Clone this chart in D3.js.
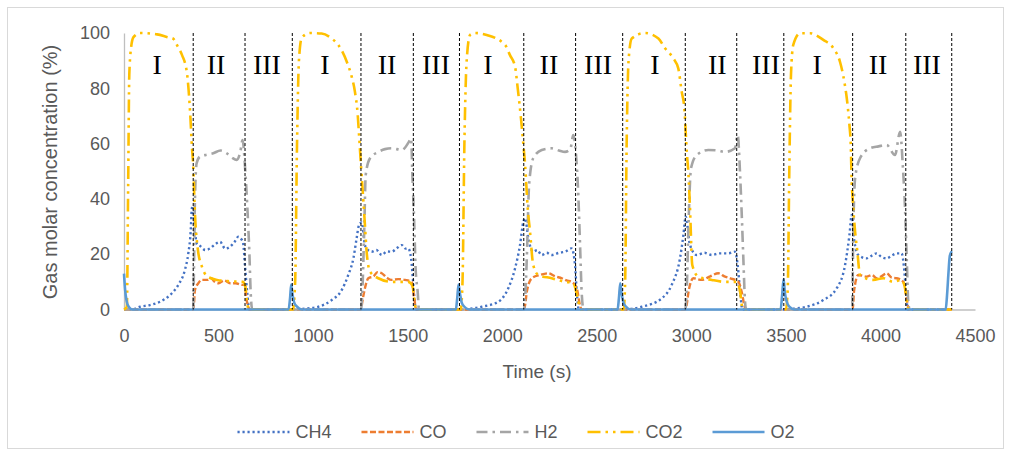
<!DOCTYPE html>
<html>
<head>
<meta charset="utf-8">
<script src="https://cdn.jsdelivr.net/npm/d3@7"></script>
<style>
  body { margin: 0; background: #fff; }
  text { font-family: "Liberation Sans", Arial, sans-serif; fill: #595959; }
</style>
</head>
<body>
<div id="chart"></div>
<script>
// gas concentrations, [time (s), %]
const ch4 = [
  [0,0],[40,0],[85,1],[137,1.6],[190,2.8],[243,5.2],[287,8.9],[322,14.3],[340,20.3],[353,28.8],[358,36],[363,37.5],
  [375,28.8],[384,24],[402,23],[430,21.5],[455,22.1],[480,23.5],[508,24.5],[535,22],[561,22.7],[585,24.5],[604,26.3],
  [620,25.5],[630,24],[640,15.5],[652,5.9],[662,0],
  [890,0],[957,0.3],[1028,1],[1098,3.4],[1151,7],[1186,12.5],[1213,18.5],[1230,25.7],[1243,30.6],[1257,31.5],
  [1274,23.3],[1290,21.5],[1310,20.9],[1335,21.5],[1363,19.7],[1390,21],[1416,20.9],[1440,22],[1469,23.3],[1490,22],
  [1503,22.1],[1518,18.5],[1530,8.9],[1539,1.6],[1546,0],
  [1777,0],[1830,0.3],[1892,1],[1979,2.8],[2032,7.7],[2068,14.9],[2094,23.3],[2112,31.8],[2121,33],[2138,25.7],
  [2164,20.9],[2185,21.5],[2209,19.7],[2235,20.5],[2262,19.7],[2300,20.5],[2332,20.9],[2367,22.1],[2385,16.1],
  [2394,6.4],[2405,0],
  [2637,0],[2690,0.3],[2738,1],[2843,4],[2896,8.9],[2940,18.5],[2958,26.9],[2970,33.6],[2993,23.3],[3029,19.7],
  [3070,20.5],[3108,19.7],[3150,20.3],[3196,20.3],[3231,20.9],[3245,16.1],[3258,6.4],[3270,0],
  [3490,0],[3545,0.3],[3610,1],[3698,3.4],[3769,7.7],[3813,16.1],[3836,26.9],[3848,34.2],[3860,25.7],[3883,19.7],
  [3927,18.5],[3955,19.5],[3980,20.3],[4005,19],[4033,18.5],[4060,19.5],[4086,20.3],[4112,20.3],[4125,14.9],
  [4135,6.4],[4145,0],[4377,0]
];

const co = [
  [0,0],[366,0],[370,2],[375,7],[393,9.5],[410,10.7],[440,10.7],[460,11.3],[480,10],[500,9.5],[530,10.5],[561,9.5],
  [590,9.5],[627,8.9],[640,8.9],[646,4.6],[657,1],[662,0],
  [1253,0],[1260,2.8],[1274,7.7],[1292,11.3],[1320,12],[1340,13.5],[1363,13.1],[1390,11.5],[1416,10.7],[1450,11],
  [1486,10.7],[1521,10],[1535,4],[1545,0],
  [2114,0],[2122,2],[2130,6.4],[2156,11.3],[2200,12.5],[2244,13.1],[2280,12],[2315,11.3],[2340,10.5],[2367,10],
  [2394,7.7],[2411,1.6],[2420,0],
  [2968,0],[2976,2],[2985,6.4],[3011,11.3],[3055,10.7],[3100,12],[3143,13.1],[3175,12],[3205,11.3],[3249,10],
  [3266,6.4],[3280,1.6],[3288,0],
  [3853,0],[3856,2],[3860,6.4],[3883,12.5],[3927,11.9],[3955,12.5],[3980,11.3],[4005,12],[4033,13.1],[4060,11.5],
  [4086,11.3],[4121,10],[4139,4],[4150,0],[4377,0]
];

const h2 = [
  [0,0],[366,0],[370,15.5],[375,39.6],[384,52.9],[402,55.3],[440,56],[472,56.5],[510,57.5],[543,56.5],[570,55],
  [596,54.1],[615,57],[627,61.3],[640,51.6],[652,37.2],[663,20.3],[670,5.9],[678,0],
  [1253,0],[1260,6],[1271,30.6],[1278,48.6],[1301,54.7],[1345,57],[1380,58],[1416,58.3],[1469,57.7],[1507,60.7],
  [1518,61.9],[1525,48.6],[1535,30.6],[1542,14.9],[1553,6.4],[1560,0],
  [2114,0],[2122,5],[2130,18.5],[2142,45],[2164,54.7],[2209,57.7],[2262,58.3],[2300,57.5],[2332,57],[2360,58],
  [2376,63.1],[2389,57],[2403,40.2],[2411,24.5],[2420,6.4],[2430,0],
  [2968,0],[2976,8],[2985,30.6],[2998,51],[3029,55.9],[3090,57.7],[3140,57.5],[3178,57],[3231,58.3],[3245,63.1],
  [3258,48.6],[3266,35.4],[3275,18.5],[3284,2.8],[3290,0],
  [3850,0],[3857,30.6],[3866,47.4],[3892,54.7],[3945,58.3],[3990,59],[4033,59.5],[4077,55.9],[4104,64.3],[4118,52.3],
  [4130,36.6],[4139,18.5],[4147,2.8],[4155,0],[4377,0]
];

const co2 = [
  [0,0],[15,1],[22,45],[28,85],[38,95],[50,98.5],[85,100],[175,99.5],[230,98.5],[259,98],[285,95],[307,92],
  [333,85.5],[349,72],[360,58],[366,52],[375,35],[391,21.5],[412,15.5],[440,12],[492,10.7],[560,10.2],[629,10],
  [642,8],[652,2],[660,0],
  [893,0],[905,10],[915,60],[925,90],[940,98.3],[984,100],[1045,99.8],[1098,98],[1133,95.7],[1178,89.6],[1204,84.2],
  [1221,78.8],[1236,70.3],[1243,63],[1253,52.3],[1266,39],[1274,30.6],[1283,20.9],[1301,13.7],[1345,11.3],
  [1416,10],[1503,10],[1525,8.6],[1539,1.6],[1546,0],
  [1780,0],[1790,10],[1800,60],[1812,90],[1830,99.3],[1856,100],[1918,99.3],[2015,95.7],[2041,92],[2068,87.8],
  [2082,80],[2099,69.2],[2112,59.5],[2121,52.3],[2135,36.6],[2147,28.1],[2164,16.1],[2191,12.5],[2262,11.3],
  [2332,10],[2376,9.5],[2399,4],[2411,0.5],[2418,0],
  [2642,0],[2650,10],[2658,60],[2668,90],[2685,98],[2755,100],[2826,98],[2861,94.5],[2905,90.8],[2931,87.2],
  [2949,78.8],[2963,72.8],[2976,57],[2985,48.6],[2993,36.6],[3005,16.1],[3037,11.9],[3108,10.7],[3178,10],
  [3240,10],[3258,6.4],[3270,0.5],[3276,0],
  [3500,0],[3510,8],[3518,50],[3527,85],[3539,95.7],[3575,99.9],[3628,99.9],[3698,97.5],[3751,94.5],[3786,89.6],
  [3809,82.4],[3822,76.4],[3836,66.7],[3843,59.5],[3848,46.2],[3853,40.2],[3866,28.1],[3878,20.9],[3892,12.5],
  [3962,10.7],[4015,11.3],[4068,10],[4112,10.7],[4130,7.7],[4142,1.6],[4150,0],[4377,0]
];

const o2 = [
  [0,13],[6,7],[14,3],[25,1],[45,0],
  [870,0],[878,4],[884,9],[890,6],[900,2.5],[915,1],[940,0],
  [1755,0],[1762,4],[1769,9],[1776,6],[1786,2.5],[1800,1],[1825,0],
  [2610,0],[2617,4],[2624,9.5],[2631,6],[2641,2.5],[2655,1],[2680,0],
  [3472,0],[3480,5],[3488,11],[3494,6.5],[3504,3],[3518,1],[3545,0],
  [4345,0],[4352,5],[4359,12.5],[4366,19],[4372,20.5],[4380,21]
];

// phase boundaries (dashed lines) and phase labels
const boundaries = [366, 640, 890, 1253, 1530, 1774, 2114, 2388, 2637, 2968, 3240, 3489, 3853, 4134, 4377];
const phaseNames = ["I", "II", "III", "I", "II", "III", "I", "II", "III", "I", "II", "III", "I", "II", "III"];
const phaseTimes = [175, 487, 756, 1063, 1391, 1650, 1925, 2247, 2507, 2808, 3137, 3395, 3665, 3987, 4246];

const xTicks = [0, 500, 1000, 1500, 2000, 2500, 3000, 3500, 4000, 4500];
const yTicks = [0, 20, 40, 60, 80, 100];

const series = [
  { name: "CH4", data: ch4, color: "#4472C4", width: 2.4, dash: "2.2,2.8" },
  { name: "CO",  data: co,  color: "#ED7D31", width: 2.4, dash: "6,2.5" },
  { name: "H2",  data: h2,  color: "#A5A5A5", width: 2.6, dash: "11,5,2.5,5" },
  { name: "CO2", data: co2, color: "#FFC000", width: 2.6, dash: "13,5,2.5,5,2.5,5" },
  { name: "O2",  data: o2,  color: "#5B9BD5", width: 2.6, dash: null }
];

const width = 1011;
const height = 456;

const x = d3.scaleLinear().domain([0, 4500]).range([124, 975]);
const y = d3.scaleLinear().domain([0, 100]).range([309.5, 33]);

const svg = d3.select("#chart")
  .append("svg")
  .attr("width", width)
  .attr("height", height);

// outer frame
svg.append("rect")
  .attr("x", 7.5).attr("y", 7.5)
  .attr("width", 996).attr("height", 441)
  .attr("fill", "#fff")
  .attr("stroke", "#D9D9D9");

// axes
const xAxis = svg.append("g")
  .attr("transform", `translate(0,${y(0)})`)
  .call(d3.axisBottom(x).tickValues(xTicks).tickSize(0).tickPadding(20).tickFormat(d3.format("d")));
xAxis.select(".domain").attr("stroke", "#BFBFBF").attr("stroke-width", 1.3);
xAxis.selectAll("text").style("font-size", "18px").style("fill", "#595959")
  .style("font-family", "'Liberation Sans', Arial, sans-serif");

const yAxis = svg.append("g")
  .attr("transform", `translate(${x(0)},0)`)
  .call(d3.axisLeft(y).tickValues(yTicks).tickSize(0).tickPadding(14));
yAxis.select(".domain").attr("stroke", "#BFBFBF").attr("stroke-width", 1.3);
yAxis.selectAll("text").style("font-size", "18px").style("fill", "#595959")
  .style("font-family", "'Liberation Sans', Arial, sans-serif");

// axis titles
svg.append("text")
  .attr("x", 537).attr("y", 378)
  .attr("text-anchor", "middle")
  .style("font-size", "19px")
  .text("Time (s)");

svg.append("text")
  .attr("transform", `translate(57,${172}) rotate(-90)`)
  .attr("text-anchor", "middle")
  .style("font-size", "20px")
  .text("Gas molar concentration (%)");

// series
const line = d3.line()
  .x(d => x(d[0]))
  .y(d => y(d[1]))
  .curve(d3.curveMonotoneX);

svg.append("g")
  .selectAll("path")
  .data(series)
  .enter()
  .append("path")
  .attr("d", d => line(d.data))
  .attr("fill", "none")
  .attr("stroke", d => d.color)
  .attr("stroke-width", d => d.width)
  .attr("stroke-dasharray", d => d.dash)
  .attr("stroke-linejoin", "round");

// phase separators
svg.append("g")
  .selectAll("line")
  .data(boundaries)
  .enter()
  .append("line")
  .attr("x1", d => x(d)).attr("x2", d => x(d))
  .attr("y1", y(100)).attr("y2", y(0))
  .attr("stroke", "#000")
  .attr("stroke-width", 1)
  .attr("stroke-dasharray", "3,2");

svg.append("g")
  .selectAll("text")
  .data(phaseTimes)
  .enter()
  .append("text")
  .attr("x", d => x(d))
  .attr("y", 74)
  .attr("text-anchor", "middle")
  .style("font-family", "'Liberation Serif', 'Times New Roman', serif")
  .style("font-size", "28px")
  .style("fill", "#000")
  .text((d, i) => phaseNames[i]);

// legend
const legend = svg.append("g").attr("transform", "translate(0,432)");
const items = legend.selectAll("g")
  .data(series)
  .enter()
  .append("g");

items.append("line")
  .attr("x1", 0).attr("x2", 52)
  .attr("y1", 0).attr("y2", 0)
  .attr("stroke", d => d.color)
  .attr("stroke-width", d => d.width)
  .attr("stroke-dasharray", d => d.dash);

items.append("text")
  .attr("x", 58)
  .attr("y", 0)
  .attr("dy", "0.35em")
  .style("font-size", "18px")
  .text(d => d.name);

let offset = 0;
const widths = [];
items.each(function() {
  const w = 58 + this.querySelector("text").getComputedTextLength();
  widths.push(w);
});
const gap = 30;
const total = d3.sum(widths) + gap * (widths.length - 1);
offset = 516 - total / 2;
items.attr("transform", (d, i) => {
  const t = `translate(${offset},0)`;
  offset += widths[i] + gap;
  return t;
});
</script>
</body>
</html>
